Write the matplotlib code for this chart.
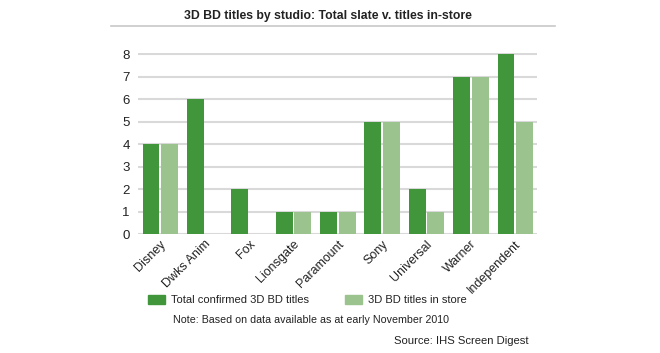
import numpy as np
import matplotlib.pyplot as plt
from matplotlib.patches import Patch
from matplotlib.lines import Line2D

studios = ['Disney', 'Dwks Anim', 'Fox', 'Lionsgate', 'Paramount', 'Sony', 'Universal', 'Warner', 'Independent']
total_confirmed = [4, 6, 2, 1, 1, 5, 2, 7, 8]
in_store = [4, 0, 0, 1, 1, 5, 1, 7, 5]
y_ticks = [0, 1, 2, 3, 4, 5, 6, 7, 8]

DARK = '#41963c'
LIGHT = '#9bc38d'
GRID = '#d9d9d9'
TXT = '#222222'

plt.rcParams['font.family'] = ['Liberation Sans', 'DejaVu Sans']

fig = plt.figure(figsize=(6.6, 3.53), dpi=100)
ax = fig.add_axes([0.209, 0.337, 0.605, 0.513])

x = np.arange(len(studios))
w = 0.38
ax.bar(x - 0.205, total_confirmed, w, color=DARK, zorder=3)
ax.bar(x + 0.215, in_store, w, color=LIGHT, zorder=3)

ax.set_xlim(-0.5, len(studios) - 0.5)
ax.set_ylim(0, 8.05)
ax.set_yticks(y_ticks)
ax.yaxis.grid(True, color=GRID, linewidth=1.5, zorder=0)
ax.tick_params(axis='y', length=0, labelsize=9.5, colors=TXT, pad=6)
ax.tick_params(axis='x', length=0, colors=TXT, pad=3)
ax.set_xticks(x)
ax.set_xticklabels(studios, rotation=45, ha='right', rotation_mode='anchor', fontsize=9)
for s in ax.spines.values():
    s.set_visible(False)

fig.text(0.497, 0.955, '3D BD titles by studio: Total slate v. titles in-store',
         ha='center', va='center', fontsize=8.8, fontweight='bold', color=TXT)
fig.add_artist(Line2D([111 / 660, 555 / 660], [1 - 26 / 353] * 2, color='#c8c8c8', linewidth=1.2))

handles = [Patch(color=DARK, label='Total confirmed 3D BD titles'),
           Patch(color=LIGHT, label='3D BD titles in store')]
fig.legend(handles=handles, loc='center left', bbox_to_anchor=(138 / 660, 1 - 300 / 353), ncol=2,
           frameon=False, fontsize=8, handlelength=1.5, handleheight=0.9, handletextpad=0.6,
           columnspacing=3.2, labelcolor=TXT)

fig.text(173 / 660, 1 - 320 / 353, 'Note: Based on data available as at early November 2010',
         ha='left', va='center', fontsize=7.7, color=TXT)
fig.text(394 / 660, 1 - 341 / 353, 'Source: IHS Screen Digest',
         ha='left', va='center', fontsize=8.1, color=TXT)

fig.savefig('out.png', dpi=100, facecolor='white')
